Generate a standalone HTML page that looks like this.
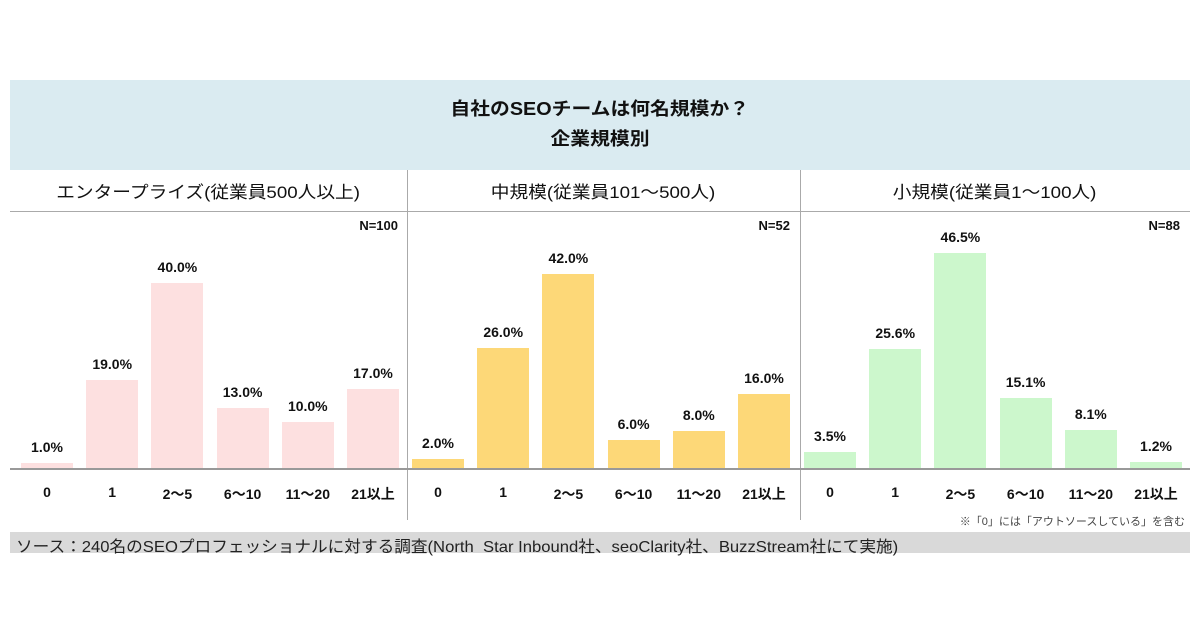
<!DOCTYPE html><html><head><meta charset="utf-8"><style>
body{margin:0;width:1200px;height:630px;background:#fff;font-family:"Liberation Sans","Noto Sans CJK JP",sans-serif;position:relative;overflow:hidden;color:#111}
.a{position:absolute}
.t{text-align:center;font-weight:bold}
.s{display:inline-block;transform:scaleX(1.1)}
</style></head><body>
<div class="a" style="left:10px;top:80px;width:1180px;height:90px;background:#daebf1"></div>
<div class="a t" style="left:10px;top:94px;width:1180px;font-size:18px;line-height:30px"><span class="s">自社のSEOチームは何名規模か？</span><br><span class="s">企業規模別</span></div>
<div class="a" style="left:407px;top:170px;width:1px;height:298px;background:#aaa"></div>
<div class="a" style="left:800px;top:170px;width:1px;height:298px;background:#aaa"></div>
<div class="a" style="left:407px;top:468px;width:1px;height:52px;background:#aaa"></div>
<div class="a" style="left:800px;top:468px;width:1px;height:52px;background:#aaa"></div>
<div class="a" style="left:10px;top:211px;width:1180px;height:1px;background:#aaa"></div>
<div class="a" style="left:10px;top:468px;width:1180px;height:2px;background:#999"></div>
<div class="a" style="left:10px;top:178px;width:397px;text-align:center;font-size:17px"><span class="s">エンタープライズ(従業員500人以上)</span></div>
<div class="a" style="left:407px;top:178px;width:393px;text-align:center;font-size:17px"><span class="s">中規模(従業員101～500人)</span></div>
<div class="a" style="left:800px;top:178px;width:390px;text-align:center;font-size:17px"><span class="s">小規模(従業員1～100人)</span></div>
<div class="a t" style="left:320px;top:218px;width:78px;text-align:right;font-size:13px">N=100</div>
<div class="a t" style="left:710px;top:218px;width:80px;text-align:right;font-size:13px">N=52</div>
<div class="a t" style="left:1100px;top:218px;width:80px;text-align:right;font-size:13px">N=88</div>
<div id="c"></div>
<div class="a" style="left:900px;top:513px;width:285px;text-align:right;font-size:11px;color:#444">※「0」には「アウトソースしている」を含む</div>
<div class="a" style="left:10px;top:532px;width:1180px;height:21px;background:#d9d9d9"></div>
<div class="a" style="left:16px;top:533px;font-size:16px;color:#222;transform:scaleX(1.04);transform-origin:left">ソース：240名のSEOプロフェッショナルに対する調査(North&nbsp; Star Inbound社、seoClarity社、BuzzStream社にて実施)</div>
<script>
var P=[[47,'#fde0e0',[1,19,40,13,10,17]],[438,'#fdd878',[2,26,42,6,8,16]],[830,'#ccf7cc',[3.5,25.6,46.5,15.1,8.1,1.2]]];
var L=['0','1','2～5','6～10','11～20','21以上'],h='';
P.forEach(function(p){p[2].forEach(function(v,i){var cx=p[0]+i*65.2,bh=v*4.63,top=468-bh;
h+='<div class="a" style="left:'+(cx-26)+'px;top:'+top+'px;width:52px;height:'+bh+'px;background:'+p[1]+'"></div>';
h+='<div class="a t" style="left:'+(cx-40)+'px;top:'+(top-24)+'px;width:80px;font-size:14px">'+v.toFixed(1)+'%</div>';
h+='<div class="a t" style="left:'+(cx-40)+'px;top:484px;width:80px;font-size:14px">'+L[i]+'</div>';});});
document.getElementById('c').innerHTML=h;
</script>
</body></html>
